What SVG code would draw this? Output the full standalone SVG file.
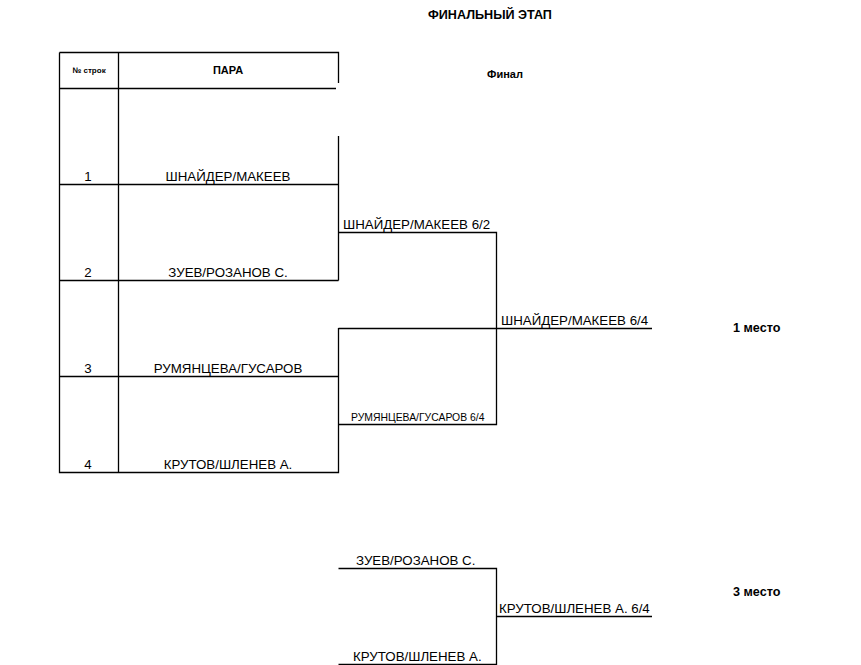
<svg xmlns="http://www.w3.org/2000/svg" width="861" height="665" viewBox="0 0 861 665">
<style>
text{font-family:"Liberation Sans",Arial,sans-serif;fill:#000}
.t{font-size:13.3px}
.c{text-anchor:middle}
.b{font-weight:bold}
.ln{stroke:#000;stroke-width:1.3;fill:none}
</style>
<rect width="861" height="665" fill="#fff"/>
<g id="title">
<text class="b c" x="490" y="19" font-size="12.6">ФИНАЛЬНЫЙ ЭТАП</text>
<text class="b c" x="505" y="78" font-size="11">Финал</text>
</g>
<g id="table">
<path class="ln" d="M59.5,52.5H338.5V83 M338.5,136V280.5 M338.5,328V472.5H59.5V52.5 M118.5,52.5V472.5 M59.5,88.5H336 M59.5,184.5H338.5 M59.5,280.5H338.5 M59.5,376.5H338.5"/>
<text class="c b" x="89" y="73" font-size="8">№ строк</text>
<text class="c b" x="228" y="74" font-size="11">ПАРА</text>
</g>
<g id="row1"><text class="t c" x="88" y="181">1</text><text class="t c" x="228" y="181">ШНАЙДЕР/МАКЕЕВ</text></g>
<g id="row2"><text class="t c" x="88" y="277">2</text><text class="t c" x="228" y="277">ЗУЕВ/РОЗАНОВ С.</text></g>
<g id="row3"><text class="t c" x="88" y="373">3</text><text class="t c" x="228" y="373">РУМЯНЦЕВА/ГУСАРОВ</text></g>
<g id="row4"><text class="t c" x="88" y="469">4</text><text class="t c" x="228" y="469">КРУТОВ/ШЛЕНЕВ А.</text></g>
<g id="connectors">
<path class="ln" d="M338.5,232.5H496.5V424.5H338.5 M338.5,328.5H652 M338.5,568.5H496.5V664.5H338.5 M496.5,616.5H652"/>
</g>
<g id="semi1"><text class="t" x="343" y="229">ШНАЙДЕР/МАКЕЕВ 6/2</text></g>
<g id="semi2"><text x="351" y="421" font-size="10.4">РУМЯНЦЕВА/ГУСАРОВ 6/4</text></g>
<g id="final"><text class="t" x="501" y="325">ШНАЙДЕР/МАКЕЕВ 6/4</text></g>
<g id="place1"><text class="b" x="733" y="332" font-size="12.6">1 место</text></g>
<g id="third-a"><text class="t" x="356" y="565">ЗУЕВ/РОЗАНОВ С.</text></g>
<g id="third-b"><text class="t" x="353" y="661">КРУТОВ/ШЛЕНЕВ А.</text></g>
<g id="third"><text class="t" x="499" y="613">КРУТОВ/ШЛЕНЕВ А. 6/4</text></g>
<g id="place3"><text class="b" x="733" y="596" font-size="12.6">3 место</text></g>
</svg>
